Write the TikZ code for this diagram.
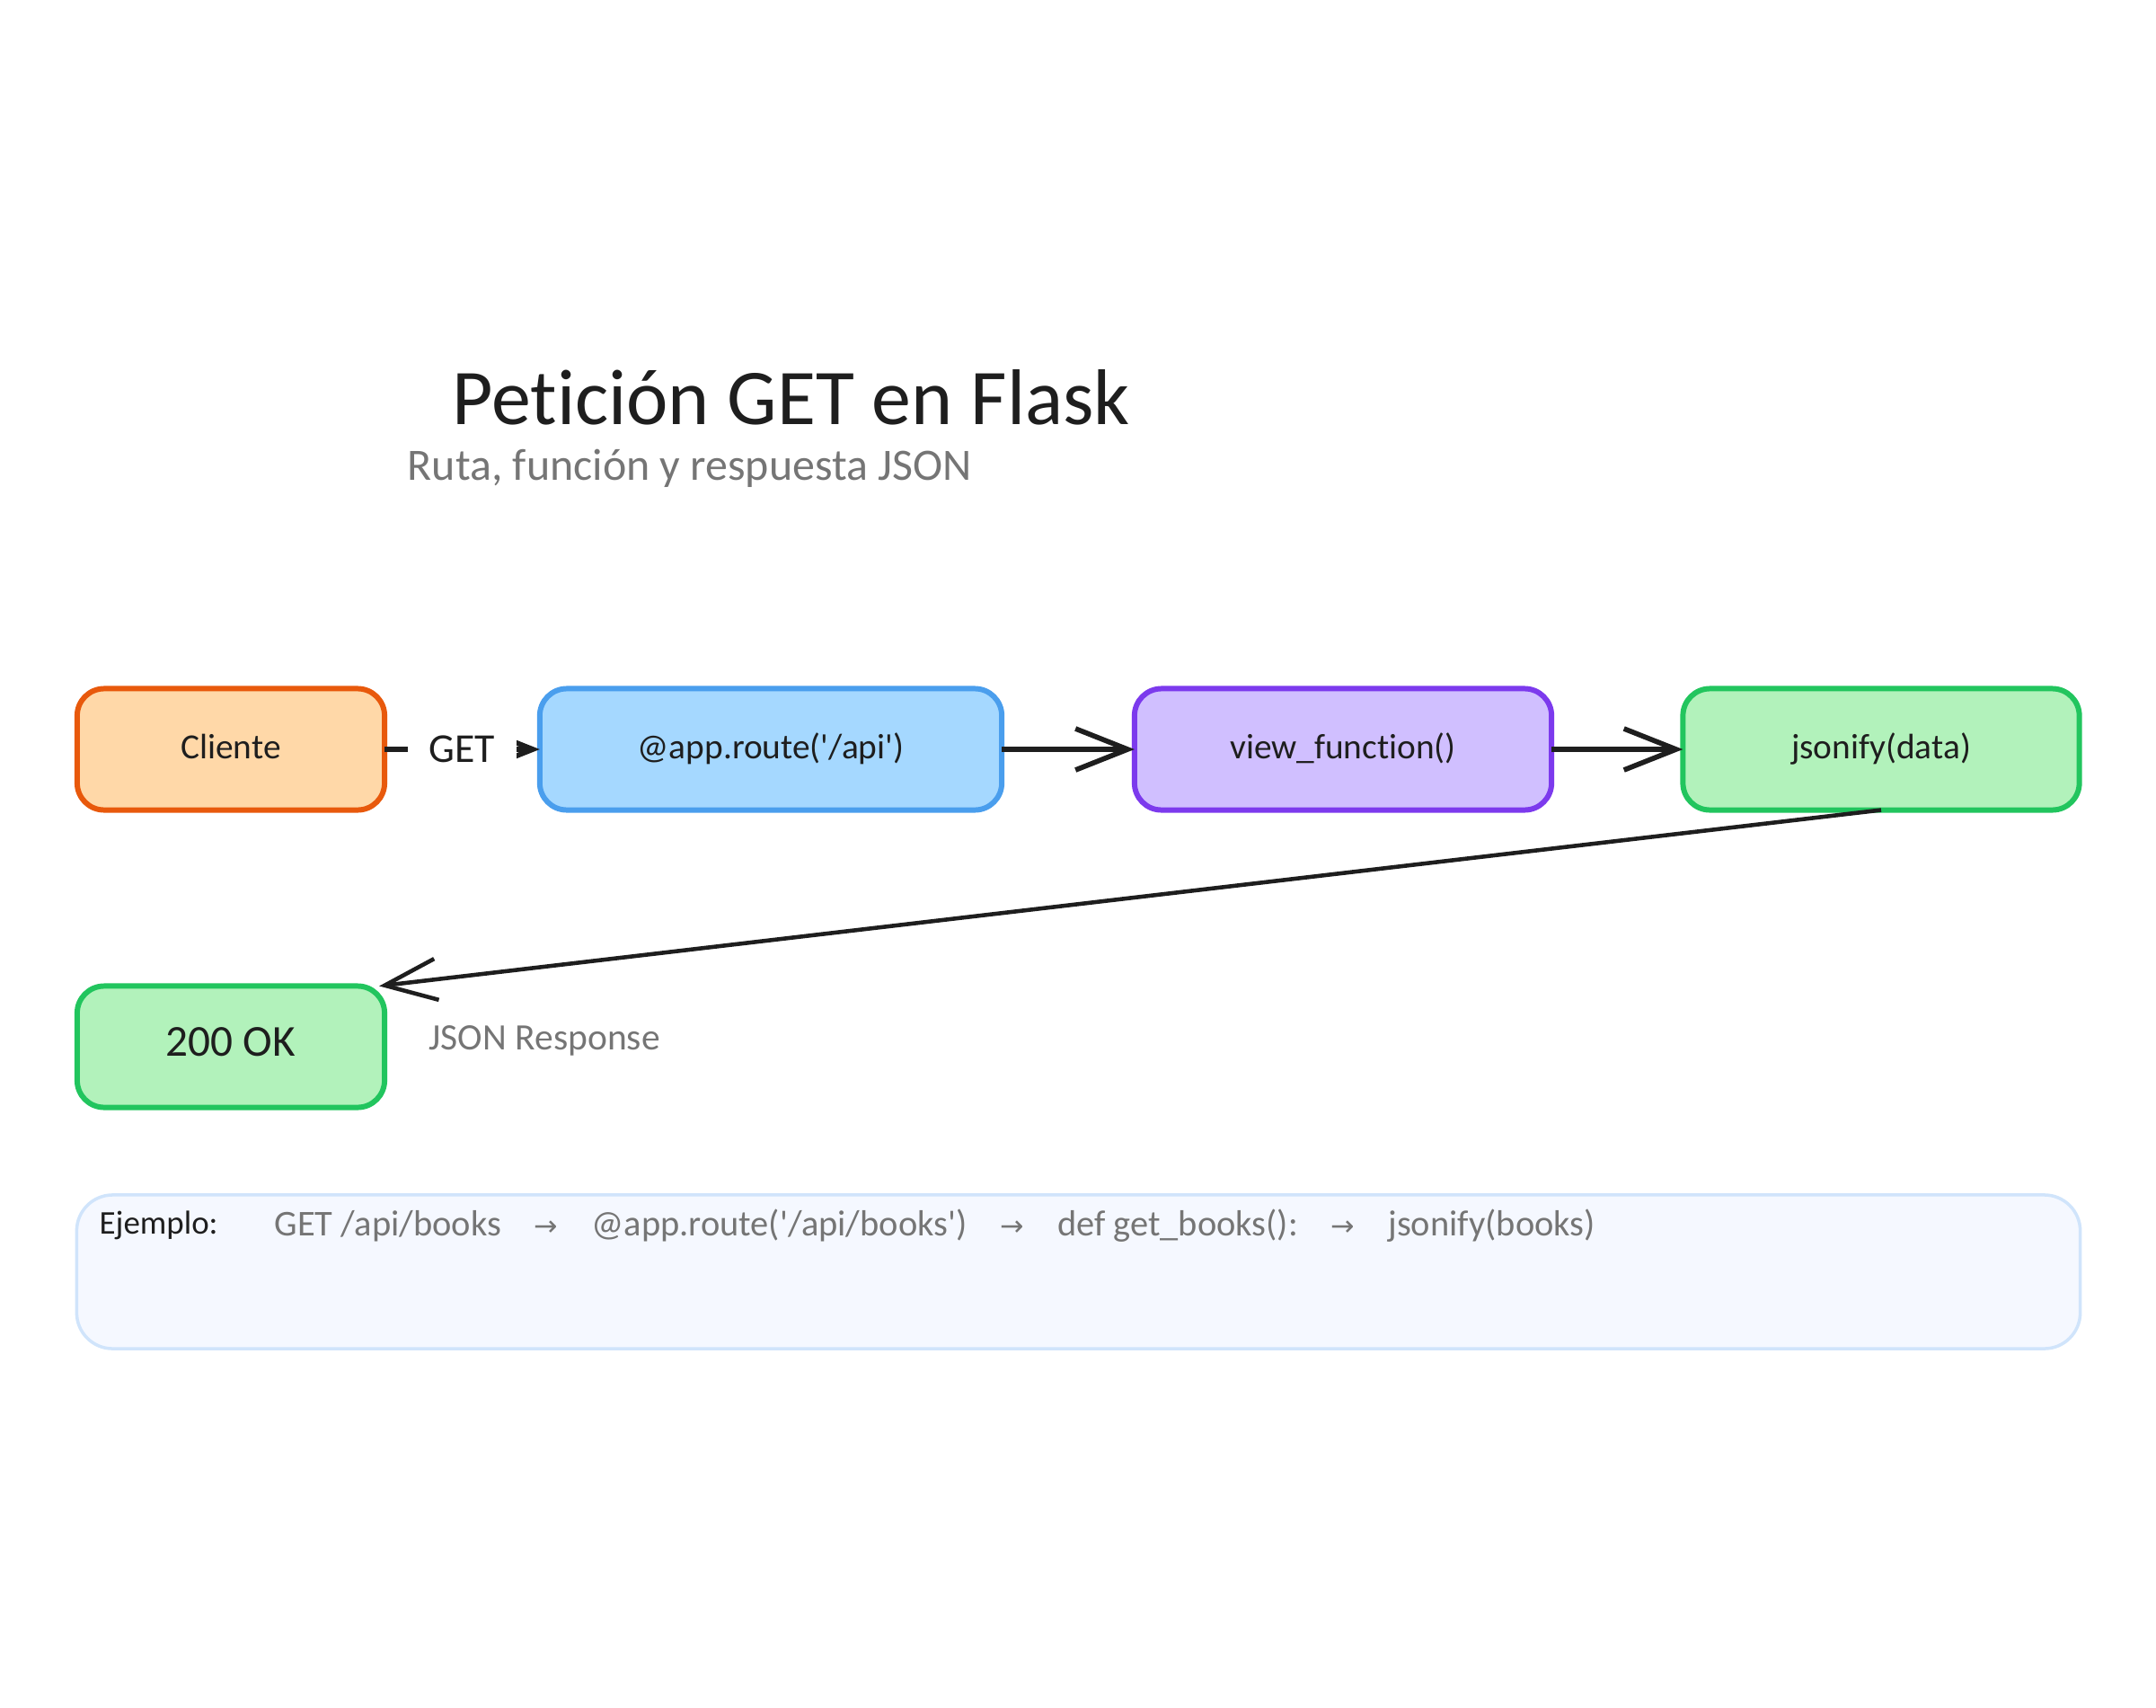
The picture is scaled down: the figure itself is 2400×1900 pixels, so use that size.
\documentclass[tikz,border=0pt]{standalone}
\usepackage{fontspec}
\usetikzlibrary{arrows.meta}
\newfontfamily\manofont[Ligatures=NoCommon]{Carlito}
\newfontfamily\flechafont{DejaVu Sans}
\definecolor{tinta}{HTML}{1E1E1E}
\definecolor{gris}{HTML}{757575}
\tikzset{
  caja/.style={draw, line width=1.7pt, rounded corners=3mm, minimum height=1.35cm, outer sep=0pt,
    text=tinta, text height=1.6ex, text depth=.2ex, font=\manofont\fontsize{11.2}{14}\selectfont},
  cliente/.style={caja, draw={rgb,255:red,232;green,89;blue,12}, fill={rgb,255:red,255;green,216;blue,168}, minimum width=3.42cm},
  ruta/.style={caja, draw={rgb,255:red,74;green,158;blue,237}, fill={rgb,255:red,165;green,216;blue,255}, minimum width=5.14cm},
  vista/.style={caja, draw={rgb,255:red,124;green,58;blue,237}, fill={rgb,255:red,208;green,191;blue,255}, minimum width=4.64cm},
  verde/.style={caja, draw={rgb,255:red,34;green,197;blue,94}, fill={rgb,255:red,178;green,242;blue,187}},
  flecha/.style={-{Straight Barb[length=5.8mm,width=4.6mm]}, draw=tinta, line width=1.6pt},
  nota/.style={text=gris, font=\manofont\fontsize{11.8}{15}\selectfont, inner sep=0pt, anchor=west}
}
\begin{document}
\begin{tikzpicture}[x=0.01cm, y=-0.01cm]
  \useasboundingbox (0,0) rectangle (2400,1900);

  % Titulo
  \node[text=tinta, font=\manofont\fontsize{25}{30}\selectfont, inner sep=0pt, anchor=west]
    (titulo) at (503,442) {Petición GET en Flask};
  \node[nota, font=\manofont\fontsize{14.2}{17}\selectfont] (subtitulo) at (453,521) {Ruta, función y respuesta JSON};

  % Cajas del flujo
  \node[cliente] (cli) at (257,834) {Cliente};
  \node[ruta] (rt) at (858,834) {@app.route('/api')};
  \node[vista] (vw) at (1495,834) {view\_function()};
  \node[verde, minimum width=4.41cm] (js) at (2094,834) {jsonify(data)};
  \node[verde, minimum width=3.42cm, font=\manofont\fontsize{14}{17}\selectfont] (ok) at (257,1165) {200 OK};

  % Flechas
  \draw[flecha] (cli) -- (rt) node[midway, fill=white, inner sep=0pt, minimum width=1.2cm, minimum height=1.2cm,
    text=tinta, font=\manofont\fontsize{13}{16}\selectfont] (get) {GET};
  \draw[flecha] (rt) -- (vw);
  \draw[flecha] (vw) -- (js);
  \draw[flecha, line width=1.3pt] (js.south) -- ([xshift=-0.06cm]ok.north east);
  \node[nota] (resp) at (477,1158) {JSON Response};

  % Ejemplo
  \node[draw={rgb,255:red,208;green,228;blue,251}, fill={rgb,255:red,245;green,248;blue,255}, line width=1pt,
    rounded corners=4mm, minimum width=22.29cm, minimum height=1.71cm] (ejemplo) at (1200.5,1415.5) {};
  \node[text=tinta, font=\manofont\fontsize{10.5}{15}\selectfont, inner sep=0pt, anchor=west] (ej) at (110,1364) {Ejemplo:};
  \node[nota, font=\manofont\fontsize{11.5}{15}\selectfont] (linea) at (305,1364) {GET /api/books\hspace{3.7mm}{\flechafont\small →}\hspace{3.7mm}@app.route('/api/books')\hspace{3.7mm}{\flechafont\small →}\hspace{3.7mm}def get\_books():\hspace{3.7mm}{\flechafont\small →}\hspace{3.7mm}jsonify(books)};
\end{tikzpicture}
\end{document}
